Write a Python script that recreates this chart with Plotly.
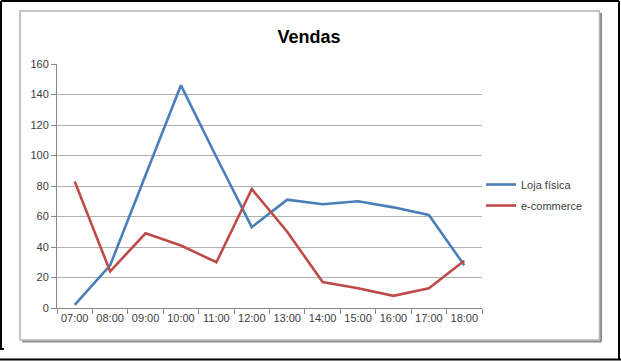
import plotly.graph_objects as go

categories = ["07:00", "08:00", "09:00", "10:00", "11:00", "12:00",
              "13:00", "14:00", "15:00", "16:00", "17:00", "18:00"]
loja_fisica = [2, 28, 87, 146, 99, 53, 71, 68, 70, 66, 61, 28]
e_commerce = [83, 24, 49, 41, 30, 78, 50, 17, 13, 8, 13, 31]
y_ticks = [0, 20, 40, 60, 80, 100, 120, 140, 160]

W, H = 621, 361
L, R, T, B = 57, 482, 64, 308


def px(x):
    return (x - L) / (R - L)


def py(y):
    return (B - y) / (B - T)


fig = go.Figure()
fig.add_trace(go.Scatter(x=categories, y=loja_fisica, mode="lines", name="Loja física",
                         line=dict(color="#4A7EBB", width=2.6), legendgroup="a"))
fig.add_trace(go.Scatter(x=categories, y=e_commerce, mode="lines", name="e-commerce",
                         line=dict(color="#BE4B48", width=2.6), legendgroup="b"))

shapes = []
# outer black frame (document screenshot border)
for (x0, y0, x1, y1, w) in [
    (1, 1, 619, 1, 2),
    (1, 1, 1, 349, 2),
    (0, 349, 4, 349, 2),
    (619, 1, 619, 360, 2),
    (0, 359.5, 621, 359.5, 2),
]:
    shapes.append(dict(type="line", xref="paper", yref="paper",
                       x0=px(x0), y0=py(y0), x1=px(x1), y1=py(y1),
                       line=dict(color="black", width=w)))
# chart area shadow + border
shapes.append(dict(type="line", xref="paper", yref="paper",
                   x0=px(601), y0=py(13), x1=px(601), y1=py(342),
                   line=dict(color="#8c8c8c", width=2)))
shapes.append(dict(type="line", xref="paper", yref="paper",
                   x0=px(22), y0=py(341.5), x1=px(601), y1=py(341.5),
                   line=dict(color="#8c8c8c", width=2)))
shapes.append(dict(type="rect", xref="paper", yref="paper",
                   x0=px(20), y0=py(11), x1=px(599.5), y1=py(340),
                   line=dict(color="#b3b3b3", width=1.5)))

fig.update_layout(
    width=W, height=H,
    margin=dict(l=L, r=W - R, t=T, b=H - B, autoexpand=False),
    paper_bgcolor="white", plot_bgcolor="white",
    title=dict(text="<b>Vendas</b>", xref="container", x=309 / W, xanchor="center",
               yref="container", y=1 - 37 / H, yanchor="middle",
               font=dict(family="Liberation Sans", size=18, color="black")),
    font=dict(family="Liberation Sans", size=11, color="#404040"),
    shapes=shapes,
    showlegend=True,
    legend=dict(x=px(481), xanchor="left", y=py(195), yanchor="middle",
                bgcolor="rgba(0,0,0,0)", font=dict(size=11, color="#404040"),
                tracegroupgap=2, itemwidth=30),
)
fig.update_xaxes(type="category", categoryorder="array", categoryarray=categories,
                 range=[-0.5, 11.5], tickson="boundaries", ticks="outside",
                 ticklen=5, tickcolor="#888888", showline=True, linecolor="#888888",
                 linewidth=1, showgrid=False, zeroline=False, tickangle=0,
                 automargin=False,
                 tickfont=dict(size=11, color="#404040"))
fig.update_yaxes(range=[0, 160], tickvals=y_ticks, ticks="outside", ticklen=5,
                 tickcolor="#888888", showline=True, linecolor="#888888", linewidth=1,
                 showgrid=True, gridcolor="#b0b0b0", gridwidth=1, zeroline=False,
                 automargin=False,
                 tickfont=dict(size=11, color="#404040"))

fig.write_html(
    "out.html",
    config={"displayModeBar": False},
    post_script="document.body.style.margin='0';document.body.style.overflow='hidden';",
)
